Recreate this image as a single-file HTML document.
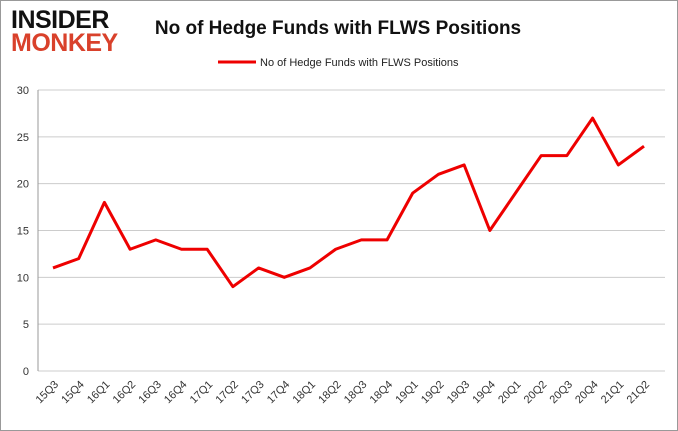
<!DOCTYPE html>
<html><head><meta charset="utf-8"><style>
body{margin:0;background:#fff;}
svg{display:block;font-family:"Liberation Sans",sans-serif;}
</style></head><body>
<svg id="c" width="678" height="431">
<rect x="0.5" y="0.5" width="677" height="430" fill="#fff" stroke="#999"/>
<text x="11" y="28" font-size="25" font-weight="900" fill="#111" letter-spacing="-0.5">INSIDER</text>
<text x="11" y="51" font-size="25" font-weight="900" fill="#d9412b" letter-spacing="-0.5">MONKEY</text>
<text x="338" y="34" font-size="19" font-weight="bold" fill="#111" text-anchor="middle">No of Hedge Funds with FLWS Positions</text>
<line x1="218" y1="62" x2="256" y2="62" stroke="#e00" stroke-width="3"/>
<text x="260" y="66" font-size="11" fill="#222">No of Hedge Funds with FLWS Positions</text>
<g id="grid"></g><g id="xl"></g>
<polyline id="line" fill="none" stroke="#e00" stroke-width="3" stroke-linejoin="round"/>
</svg>
<script>
const categories=["15Q3","15Q4","16Q1","16Q2","16Q3","16Q4","17Q1","17Q2","17Q3","17Q4","18Q1","18Q2","18Q3","18Q4","19Q1","19Q2","19Q3","19Q4","20Q1","20Q2","20Q3","20Q4","21Q1","21Q2"];
const values=[11,12,18,13,14,13,13,9,11,10,11,13,14,14,19,21,22,15,19,23,23,27,22,24];
const yTicks=[0,5,10,15,20,25,30];
const NS="http://www.w3.org/2000/svg";
const x=i=>53+i*(591/(categories.length-1));
const y=v=>371-v*(281/30);
const g=document.getElementById('grid'),xl=document.getElementById('xl');
function mk(t,a,p){const e=document.createElementNS(NS,t);for(const k in a)e.setAttribute(k,a[k]);p.appendChild(e);return e;}
yTicks.forEach(v=>{
 const l=mk('line',{x1:38,x2:665,y1:y(v),y2:y(v),stroke:'#ccc'},g);
 
 
 const t=mk('text',{x:29,y:y(v)+4,'font-size':11,'text-anchor':'end',fill:'#333'},g);
 t.textContent=v;
 
 
});
mk('line',{x1:38,x2:38,y1:90,y2:371,stroke:'#999'},g);
categories.forEach((c,i)=>{
 const t=mk('text',{x:x(i)+6,y:385,'font-size':11,'text-anchor':'end',fill:'#333',transform:`rotate(-45 ${x(i)+6} 385)`},xl);
 t.textContent=c;
 
 
});
document.getElementById('line').setAttribute('points',values.map((v,i)=>x(i)+','+y(v)).join(' '));
</script>
</body></html>
